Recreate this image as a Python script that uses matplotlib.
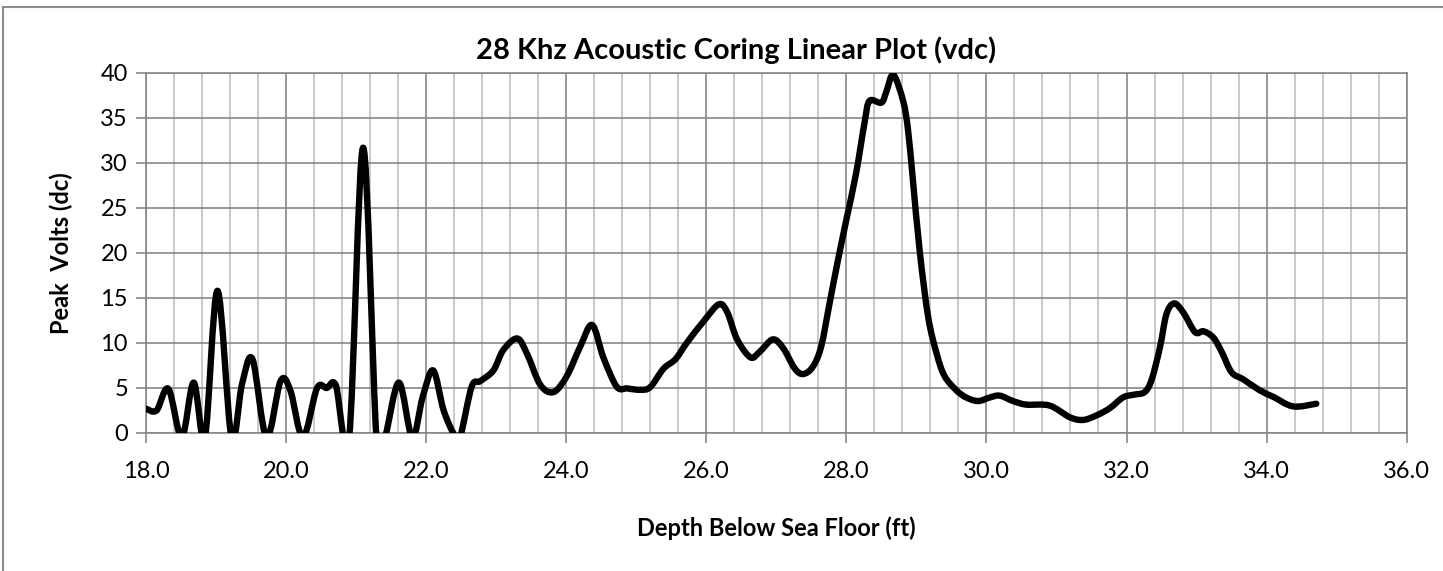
import numpy as np
import matplotlib.pyplot as plt
from matplotlib.patches import Rectangle, PathPatch
from matplotlib.path import Path
from matplotlib.ticker import MultipleLocator, FormatStrFormatter

plt.rcParams['font.family'] = ['Lato', 'DejaVu Sans']

# depth (ft) and peak volts
depth = [18.0, 18.15, 18.32, 18.51, 18.68, 18.84, 19.02, 19.22, 19.37, 19.52,
         19.72, 19.92, 20.06, 20.24, 20.44, 20.58, 20.71, 20.9, 21.1, 21.29,
         21.41, 21.61, 21.8, 21.95, 22.1, 22.25, 22.41, 22.49, 22.65, 22.77,
         22.96, 23.1, 23.3, 23.44, 23.63, 23.82, 24.01, 24.2, 24.37, 24.53,
         24.72, 24.87, 25.06, 25.2, 25.39, 25.56, 25.72, 25.96, 26.18, 26.3,
         26.44, 26.63, 26.76, 26.95, 27.1, 27.26, 27.38, 27.52, 27.64, 27.76,
         27.88, 28.0, 28.14, 28.26, 28.33, 28.5, 28.57, 28.67, 28.81, 28.88,
         28.95, 29.05, 29.17, 29.29, 29.4, 29.57, 29.71, 29.88, 30.05, 30.19,
         30.38, 30.57, 30.9, 31.19, 31.38, 31.57, 31.76, 31.95, 32.1, 32.26,
         32.36, 32.48, 32.57, 32.68, 32.81, 32.98, 33.1, 33.24, 33.36, 33.5,
         33.67, 33.9, 34.1, 34.38, 34.71]
volts = [2.7, 2.5, 4.9, -0.5, 5.6, -0.5, 15.8, -0.5, 5.4, 8.2,
         -0.5, 5.75, 4.75, -0.5, 4.95, 5.0, 5.3, -0.5, 31.7, -0.5,
         -0.5, 5.6, -0.5, 4.0, 6.95, 2.5, -0.3, -0.3, 5.15, 5.75,
         6.95, 9.2, 10.5, 8.8, 5.35, 4.55, 6.35, 9.6, 12.0, 8.4,
         5.15, 4.95, 4.8, 5.1, 7.15, 8.2, 10.0, 12.4, 14.3, 13.4,
         10.4, 8.4, 9.0, 10.4, 9.4, 7.2, 6.55, 7.35, 9.6, 14.4,
         19.2, 23.7, 28.9, 34.5, 36.9, 36.7, 37.9, 39.8, 36.9, 33.7,
         28.1, 20.0, 12.8, 8.8, 6.35, 4.75, 3.95, 3.55, 3.95, 4.15,
         3.55, 3.15, 3.05, 1.75, 1.45, 1.95, 2.75, 3.95, 4.25, 4.55,
         5.95, 9.6, 13.2, 14.4, 13.4, 11.2, 11.3, 10.6, 9.0, 6.75,
         5.95, 4.75, 4.0, 2.95, 3.25]


def smooth_path(x, y):
    # excel style smoothed line: bezier segments through every point
    p = np.column_stack([x, y])
    n = len(p)
    verts = [p[0]]
    codes = [Path.MOVETO]
    for i in range(n - 1):
        p0 = p[i - 1] if i > 0 else p[i]
        p3 = p[i + 2] if i + 2 < n else p[i + 1]
        c1 = p[i] + (p[i + 1] - p0) / 6
        c2 = p[i + 1] - (p3 - p[i]) / 6
        verts += [c1, c2, p[i + 1]]
        codes += [Path.CURVE4] * 3
    return Path(verts, codes)


fig = plt.figure(figsize=(14.43, 5.71), dpi=100)
ax = fig.add_axes([0.1012, 0.2417, 0.8736, 0.6305])

# outer chart border
fig.patches.append(Rectangle((3 / 1443, -0.05), 1.1, 1 - 7 / 571 + 0.05,
                             transform=fig.transFigure, fill=False,
                             edgecolor='#8c8c8c', linewidth=1.5))

ax.add_patch(PathPatch(smooth_path(depth, volts), fill=False,
                       edgecolor='black', linewidth=4.6, joinstyle='round',
                       capstyle='round', zorder=3))

ax.set_xlim(18, 36)
ax.set_ylim(0, 40)
ax.xaxis.set_major_locator(MultipleLocator(2))
ax.xaxis.set_minor_locator(MultipleLocator(0.4))
ax.yaxis.set_major_locator(MultipleLocator(5))
ax.xaxis.set_major_formatter(FormatStrFormatter('%.1f'))

ax.grid(which='major', color='#878787', linewidth=1.2)
ax.grid(which='minor', axis='x', color='#c0c0c0', linewidth=1.2)
ax.set_axisbelow(True)

for s in ax.spines.values():
    s.set_color('#878787')
    s.set_linewidth(1.2)

ax.tick_params(which='major', length=7, color='#878787', width=1.2,
               labelsize=17)
ax.tick_params(which='minor', length=0)
ax.tick_params(axis='x', pad=13)
ax.tick_params(axis='y', pad=6)

fig.text(736 / 1443, 1 - 50 / 571, '28 Khz Acoustic Coring Linear Plot (vdc)',
         fontsize=21, fontweight='bold', ha='center', va='center')
ax.set_xlabel('Depth Below Sea Floor (ft)', fontsize=17, fontweight='bold',
              labelpad=25)
ax.set_ylabel('Peak  Volts (dc)', fontsize=17, fontweight='bold', labelpad=20)

fig.savefig('out.png', dpi=100)
